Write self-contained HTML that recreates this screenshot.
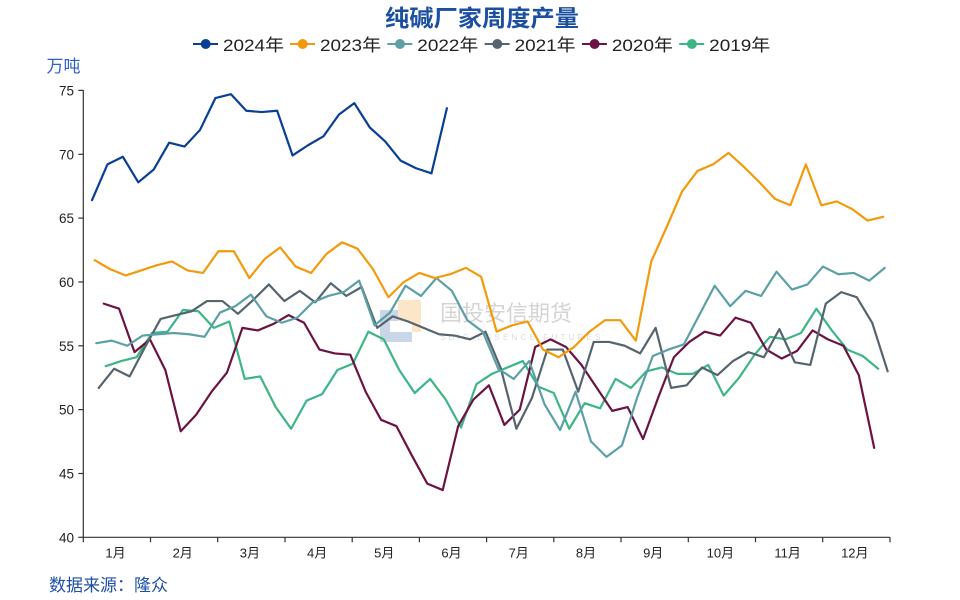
<!DOCTYPE html>
<html><head><meta charset="utf-8"><style>
html,body{margin:0;padding:0;background:#fff;}
svg{display:block;}
text{font-family:"Liberation Sans","Noto Sans CJK SC",sans-serif;}
</style></head><body>
<svg width="960" height="600" viewBox="0 0 960 600" xmlns="http://www.w3.org/2000/svg">
<rect width="960" height="600" fill="#fff"/>
<!-- title -->
<text x="482" y="26" text-anchor="middle" font-size="23" font-weight="bold" fill="#1b4fa0" textLength="194" lengthAdjust="spacingAndGlyphs">纯碱厂家周度产量</text>
<!-- legend -->
<g stroke-width="2" font-size="17" fill="#222">
<line x1="193" y1="44" x2="218" y2="44" stroke="#0a3f96"/><circle cx="205.7" cy="44" r="5" fill="#0a3f96"/>
<text x="223" y="51" textLength="61" lengthAdjust="spacingAndGlyphs">2024年</text>
<line x1="290" y1="44" x2="315" y2="44" stroke="#f39a0c"/><circle cx="302.7" cy="44" r="5" fill="#f39a0c"/>
<text x="320" y="51" textLength="61" lengthAdjust="spacingAndGlyphs">2023年</text>
<line x1="387.3" y1="44" x2="412.3" y2="44" stroke="#5b9fa7"/><circle cx="400" cy="44" r="5" fill="#5b9fa7"/>
<text x="417.3" y="51" textLength="61" lengthAdjust="spacingAndGlyphs">2022年</text>
<line x1="484.6" y1="44" x2="509.6" y2="44" stroke="#56646f"/><circle cx="497.3" cy="44" r="5" fill="#56646f"/>
<text x="514.6" y="51" textLength="61" lengthAdjust="spacingAndGlyphs">2021年</text>
<line x1="581.9" y1="44" x2="606.9" y2="44" stroke="#6b1444"/><circle cx="594.6" cy="44" r="5" fill="#6b1444"/>
<text x="611.9" y="51" textLength="61" lengthAdjust="spacingAndGlyphs">2020年</text>
<line x1="679.2" y1="44" x2="704.2" y2="44" stroke="#3db585"/><circle cx="691.9" cy="44" r="5" fill="#3db585"/>
<text x="709.2" y="51" textLength="61" lengthAdjust="spacingAndGlyphs">2019年</text>
</g>
<!-- unit -->
<text x="46.5" y="72" font-size="17" fill="#2f5fc9">万吨</text>
<!-- watermark -->
<g opacity="1">
<rect x="380" y="310" width="32" height="32" fill="#c9d6ea"/>
<rect x="398" y="300" width="23" height="32" fill="#fbe6c8"/>
<rect x="390" y="321" width="22" height="11" fill="#fff"/>
<text x="440" y="321" font-size="22" fill="#d4d4d4">国投安信期货</text>
<text x="440" y="340" font-size="8" fill="#dcdcdc" letter-spacing="3.2">SDIC ESSENCE FUTURES</text>
</g>
<!-- axes -->
<g stroke="#333" stroke-width="1.2" fill="none">
<line x1="83.3" y1="90" x2="83.3" y2="537.3"/>
<line x1="83.3" y1="537.3" x2="890" y2="537.3"/>
<line x1="78.3" y1="90.4" x2="83.3" y2="90.4"/>
<line x1="78.3" y1="154.3" x2="83.3" y2="154.3"/>
<line x1="78.3" y1="218.1" x2="83.3" y2="218.1"/>
<line x1="78.3" y1="282" x2="83.3" y2="282"/>
<line x1="78.3" y1="345.8" x2="83.3" y2="345.8"/>
<line x1="78.3" y1="409.6" x2="83.3" y2="409.6"/>
<line x1="78.3" y1="473.5" x2="83.3" y2="473.5"/>
<line x1="78.3" y1="537.3" x2="83.3" y2="537.3"/>
<line x1="83.3" y1="537.3" x2="83.3" y2="542.3"/>
<line x1="150.5" y1="537.3" x2="150.5" y2="542.3"/>
<line x1="217.7" y1="537.3" x2="217.7" y2="542.3"/>
<line x1="285" y1="537.3" x2="285" y2="542.3"/>
<line x1="352.2" y1="537.3" x2="352.2" y2="542.3"/>
<line x1="419.4" y1="537.3" x2="419.4" y2="542.3"/>
<line x1="486.6" y1="537.3" x2="486.6" y2="542.3"/>
<line x1="553.8" y1="537.3" x2="553.8" y2="542.3"/>
<line x1="621" y1="537.3" x2="621" y2="542.3"/>
<line x1="688.3" y1="537.3" x2="688.3" y2="542.3"/>
<line x1="755.5" y1="537.3" x2="755.5" y2="542.3"/>
<line x1="822.7" y1="537.3" x2="822.7" y2="542.3"/>
<line x1="890" y1="537.3" x2="890" y2="542.3"/>
</g>
<g font-size="13.5" fill="#222" text-anchor="end">
<text x="74" y="95.4">75</text>
<text x="74" y="159.3">70</text>
<text x="74" y="223.1">65</text>
<text x="74" y="287">60</text>
<text x="74" y="350.8">55</text>
<text x="74" y="414.6">50</text>
<text x="74" y="478.5">45</text>
<text x="74" y="542.3">40</text>
</g>
<g font-size="13" fill="#222" text-anchor="middle">
<text x="115.5" y="557.5">1月</text>
<text x="182.7" y="557.5">2月</text>
<text x="249.9" y="557.5">3月</text>
<text x="317.1" y="557.5">4月</text>
<text x="384.3" y="557.5">5月</text>
<text x="451.5" y="557.5">6月</text>
<text x="518.7" y="557.5">7月</text>
<text x="586" y="557.5">8月</text>
<text x="653.2" y="557.5">9月</text>
<text x="720.4" y="557.5">10月</text>
<text x="787.6" y="557.5">11月</text>
<text x="854.8" y="557.5">12月</text>
</g>
<text x="49" y="591" font-size="17" fill="#1f4fa8">数据来源：隆众</text>
<!-- series -->
<g fill="none" stroke-width="2.2" stroke-linejoin="round" stroke-linecap="round">
<polyline vector-effect="non-scaling-stroke" stroke="#3db585" transform="matrix(15.45 0 0 -12.77 105.7 1048.1)" points="0,53.4 1,53.8 2,54.1 3,56.0 4,56.1 5,57.8 6,57.7 7,56.4 8,56.9 9,52.4 10,52.6 11,50.2 12,48.5 13,50.7 14,51.2 15,53.1 16,53.6 17,56.1 18,55.5 19,53.1 20,51.3 21,52.4 22,50.8 23,48.6 24,52.0 25,52.8 26,53.3 27,53.8 28,51.8 29,51.3 30,48.5 31,50.5 32,50.1 33,52.4 34,51.7 35,53.0 36,53.3 37,52.8 38,52.8 39,53.5 40,51.1 41,52.5 42,54.3 43,55.7 44,55.5 45,56.0 46,57.9 47,56.2 48,54.7 49,54.2 50,53.2"/>
<polyline vector-effect="non-scaling-stroke" stroke="#6b1444" transform="matrix(15.41 0 0 -12.77 103.7 1048.1)" points="0,58.3 1,57.9 2,54.5 3,55.5 4,53.1 5,48.3 6,49.6 7,51.4 8,52.9 9,56.4 10,56.2 11,56.7 12,57.4 13,56.8 14,54.7 15,54.4 16,54.3 17,51.4 18,49.2 19,48.7 20,46.4 21,44.2 22,43.7 23,48.7 24,50.8 25,51.9 26,48.8 27,50.0 28,54.9 29,55.5 30,54.9 31,53.5 32,51.7 33,49.9 34,50.2 35,47.7 36,51.0 37,54.1 38,55.3 39,56.1 40,55.8 41,57.2 42,56.8 43,54.7 44,54.0 45,54.6 46,56.2 47,55.5 48,55.0 49,52.7 50,47.0"/>
<polyline vector-effect="non-scaling-stroke" stroke="#56646f" transform="matrix(15.47 0 0 -12.77 98.7 1048.1)" points="0,51.7 1,53.2 2,52.6 3,54.9 4,57.1 5,57.4 6,57.7 7,58.5 8,58.5 9,57.5 10,58.6 11,59.8 12,58.5 13,59.3 14,58.4 15,59.9 16,58.9 17,59.6 18,56.4 19,57.3 20,56.9 21,56.4 22,55.9 23,55.8 24,55.5 25,56.1 26,53.2 27,48.5 28,50.9 29,54.7 30,54.7 31,51.4 32,55.3 33,55.3 34,55.0 35,54.4 36,56.4 37,51.7 38,51.9 39,53.3 40,52.7 41,53.8 42,54.5 43,54.1 44,56.3 45,53.7 46,53.5 47,58.3 48,59.2 49,58.8 50,56.8 51,53.0"/>
<polyline vector-effect="non-scaling-stroke" stroke="#5b9fa7" transform="matrix(15.46 0 0 -12.77 96.3 1048.1)" points="0,55.2 1,55.4 2,55.0 3,55.8 4,55.9 5,56.0 6,55.9 7,55.7 8,57.6 9,58.1 10,59.0 11,57.3 12,56.8 13,57.2 14,58.4 15,58.9 16,59.2 17,60.1 18,56.6 19,57.6 20,59.7 21,58.9 22,60.3 23,59.3 24,57.0 25,56.1 26,53.2 27,52.4 28,53.8 29,50.4 30,48.4 31,51.4 32,47.5 33,46.3 34,47.2 35,51.0 36,54.2 37,54.7 38,55.1 39,57.4 40,59.7 41,58.1 42,59.3 43,58.9 44,60.8 45,59.4 46,59.8 47,61.2 48,60.6 49,60.7 50,60.1 51,61.1"/>
<polyline vector-effect="non-scaling-stroke" stroke="#f39a0c" transform="matrix(15.46 0 0 -12.77 94.7 1048.1)" points="0,61.7 1,61.0 2,60.5 3,60.9 4,61.3 5,61.6 6,60.9 7,60.7 8,62.4 9,62.4 10,60.3 11,61.8 12,62.7 13,61.2 14,60.7 15,62.2 16,63.1 17,62.6 18,61.0 19,58.8 20,60.0 21,60.7 22,60.3 23,60.6 24,61.1 25,60.4 26,56.1 27,56.6 28,56.9 29,54.7 30,54.1 31,54.9 32,56.1 33,57.0 34,57.0 35,55.4 36,61.6 37,64.3 38,67.1 39,68.7 40,69.2 41,70.1 42,69.0 43,67.8 44,66.5 45,66.0 46,69.2 47,66.0 48,66.3 49,65.7 50,64.8 51,65.1"/>
<polyline vector-effect="non-scaling-stroke" stroke="#0a3f96" transform="matrix(15.43 0 0 -12.77 92 1048.1)" points="0,66.4 1,69.2 2,69.8 3,67.8 4,68.8 5,70.9 6,70.6 7,71.9 8,74.4 9,74.7 10,73.4 11,73.3 12,73.4 13,69.9 14,70.7 15,71.4 16,73.1 17,74.0 18,72.1 19,71.0 20,69.5 21,68.9 22,68.5 23,73.6"/>
</g>
</svg>
</body></html>
